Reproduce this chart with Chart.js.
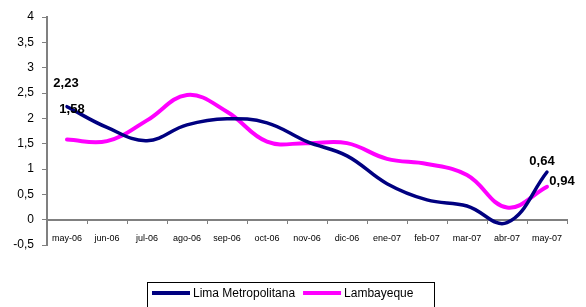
<!DOCTYPE html>
<html>
<head>
<meta charset="utf-8">
<script src="https://cdn.jsdelivr.net/npm/chart.js@4.4.1/dist/chart.umd.min.js"></script>
<style>
  html, body { margin: 0; padding: 0; background: #fff; }
  #wrap { width: 586px; height: 307px; position: relative; }
</style>
</head>
<body>
<div id="wrap"><canvas id="chart"></canvas></div>
<script>
const months = ['may-06', 'jun-06', 'jul-06', 'ago-06', 'sep-06', 'oct-06', 'nov-06',
  'dic-06', 'ene-07', 'feb-07', 'mar-07', 'abr-07', 'may-07'];
const lima = [2.23, 1.82, 1.56, 1.87, 1.99, 1.91, 1.54, 1.26, 0.71, 0.39, 0.27, -0.06, 0.94];
const lambayeque = [1.58, 1.55, 1.96, 2.46, 2.13, 1.54, 1.51, 1.51, 1.2, 1.1, 0.88, 0.24, 0.65];
const yTicks = [-0.5, 0, 0.5, 1, 1.5, 2, 2.5, 3, 3.5, 4];
// value labels as printed on the original
const valueLabels = [
  { ds: 0, i: 0, text: '2,23', dx: -1, dy: -23 },
  { ds: 1, i: 0, text: '1,58', dx: 5, dy: -30 },
  { ds: 0, i: 12, text: '0,64', dx: -5, dy: -11 },
  { ds: 1, i: 12, text: '0,94', dx: 15, dy: -5 },
];

const FONT = '"Liberation Sans", Arial, sans-serif';
const fmt = v => String(v).replace('.', ',');

const labelPlugin = {
  id: 'valueLabels',
  afterDatasetsDraw(chart) {
    const ctx = chart.ctx;
    ctx.save();
    ctx.font = 'bold 13px ' + FONT;
    ctx.fillStyle = '#000';
    ctx.textAlign = 'center';
    ctx.textBaseline = 'middle';
    valueLabels.forEach(l => {
      const pt = chart.getDatasetMeta(l.ds).data[l.i];
      ctx.fillText(l.text, pt.x + l.dx, pt.y + l.dy);
    });
    ctx.restore();
  }
};

const legendPlugin = {
  id: 'boxLegend',
  afterDraw(chart) {
    const ctx = chart.ctx;
    ctx.save();
    ctx.font = '12px ' + FONT;
    ctx.textBaseline = 'middle';
    const boxX = 147, boxY = 282, y = 293;
    let x = boxX + 5;
    chart.data.datasets.forEach(ds => {
      ctx.strokeStyle = ds.borderColor;
      ctx.lineWidth = 4;
      ctx.beginPath();
      ctx.moveTo(x, y);
      ctx.lineTo(x + 38, y);
      ctx.stroke();
      x += 41;
      ctx.fillStyle = '#000';
      ctx.fillText(ds.label, x, y + 1);
      x += ctx.measureText(ds.label).width + 8;
    });
    ctx.strokeStyle = '#000';
    ctx.lineWidth = 1;
    ctx.strokeRect(boxX + 0.5, boxY + 0.5, 287, 40);
    ctx.restore();
  }
};

new Chart(document.getElementById('chart'), {
  type: 'line',
  data: {
    labels: months,
    datasets: [
      { label: 'Lima Metropolitana', data: lima, borderColor: '#000080', borderWidth: 3.5 },
      { label: 'Lambayeque', data: lambayeque, borderColor: '#FF00FF', borderWidth: 4 },
    ],
  },
  options: {
    responsive: true,
    maintainAspectRatio: false,
    animation: false,
    layout: { padding: { left: 0, top: 17, right: 19, bottom: 62 } },
    elements: {
      point: { radius: 0 },
      line: { tension: 0.4, fill: false, borderCapStyle: 'round' },
    },
    plugins: { legend: { display: false }, tooltip: { enabled: false } },
    scales: {
      x: {
        position: { y: 0 },
        offset: true,
        grid: { offset: true, drawOnChartArea: false, drawTicks: true, tickLength: 3, color: '#808080', lineWidth: 1 },
        border: { display: true, color: '#808080', width: 2 },
        ticks: { font: { family: FONT, size: 9 }, color: '#000', padding: 10, maxRotation: 0, autoSkip: false },
      },
      y: {
        min: -0.5,
        max: 4,
        afterBuildTicks: s => { s.ticks = yTicks.map(v => ({ value: v })); },
        afterFit: s => { s.width = 47; },
        grid: { drawOnChartArea: false, drawTicks: true, tickLength: 5, color: '#808080' },
        border: { display: true, color: '#808080', width: 2 },
        ticks: { font: { family: FONT, size: 12 }, color: '#000', padding: 8, callback: v => fmt(v) },
      },
    },
  },
  plugins: [labelPlugin, legendPlugin],
});
</script>
</body>
</html>
